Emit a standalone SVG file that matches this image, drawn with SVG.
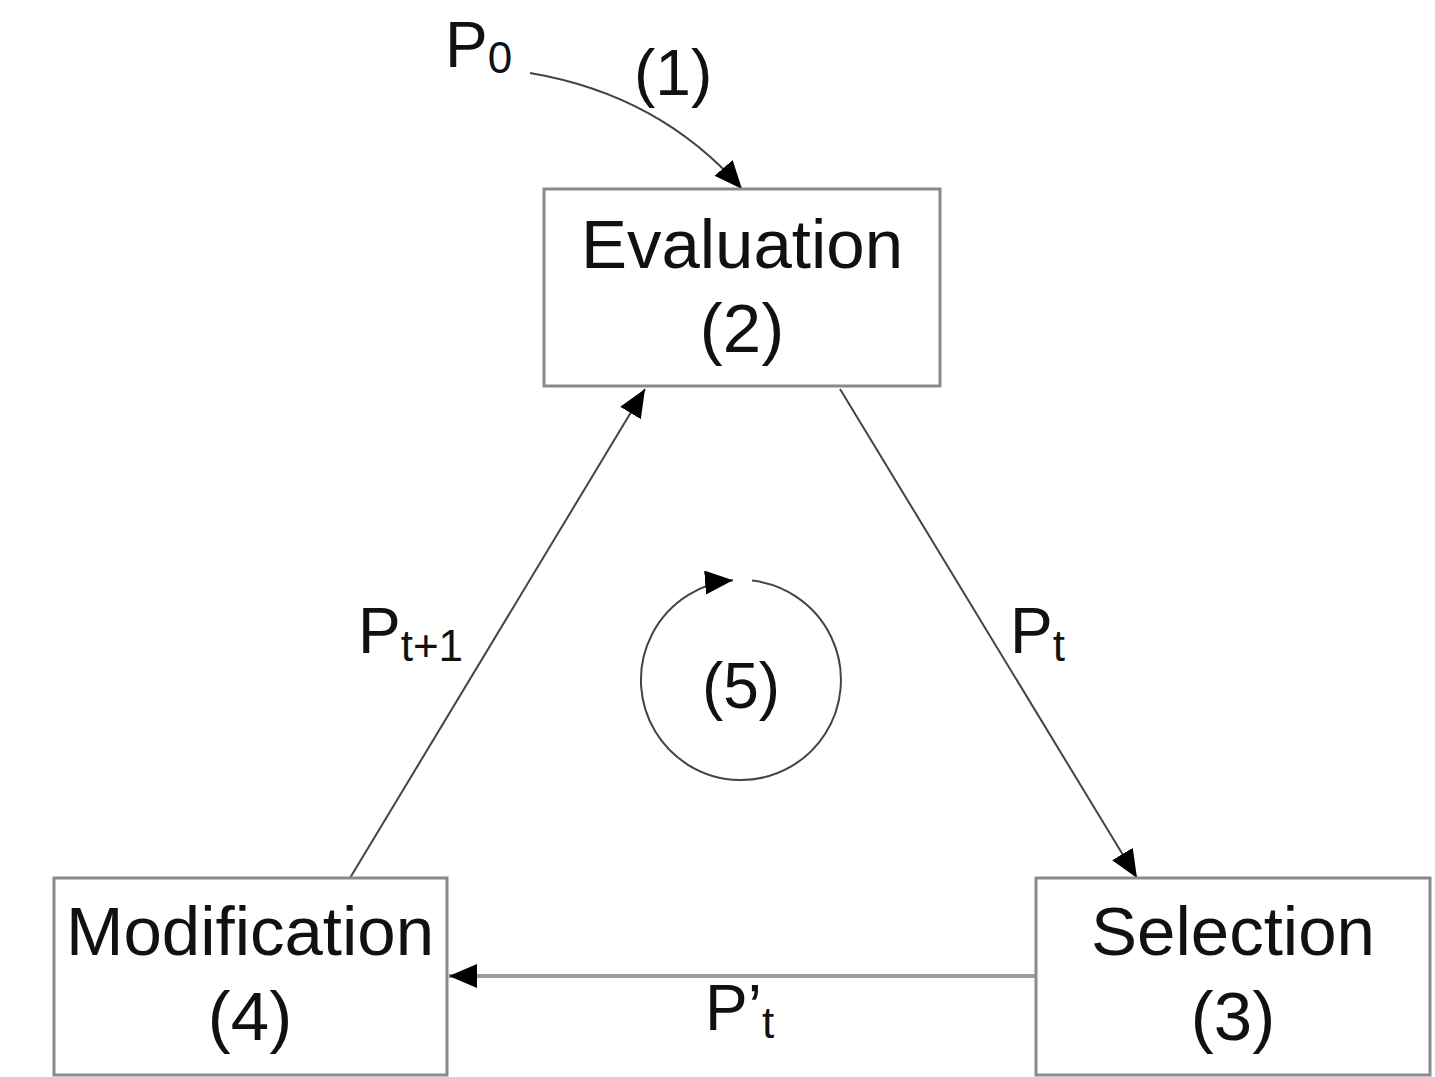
<svg xmlns="http://www.w3.org/2000/svg" width="1435" height="1077" viewBox="0 0 1435 1077">
<style>
.box{fill:#fff;stroke:#8a8a8a;stroke-width:3}
.t{font-family:"Liberation Sans",Arial,sans-serif;font-size:69px;fill:#111;text-anchor:middle}
.l{font-family:"Liberation Sans",Arial,sans-serif;font-size:64px;fill:#111}
.s{font-size:44px}
.c{fill:none;stroke:#444;stroke-width:2}
</style>
<defs>
<marker id="ah" markerUnits="userSpaceOnUse" markerWidth="32" markerHeight="26" refX="28" refY="12" orient="auto">
<path d="M0,0 L28,12 L0,24 Z" fill="#000"/>
</marker>
</defs>
<rect width="1435" height="1077" fill="#fff"/>
<g id="connectors">
<path class="c" d="M530,73 Q660,95 742,189" marker-end="url(#ah)"/>
<path class="c" d="M840,389 L1137,878" marker-end="url(#ah)"/>
<path class="c" style="stroke:#9a9a9a;stroke-width:4" d="M1036,976 L449,976" marker-end="url(#ah)"/>
<path class="c" d="M350,878 L645,389" marker-end="url(#ah)"/>
<path class="c" d="M752,580.6 A100,100 0 1 1 733,580.3" marker-end="url(#ah)"/>
</g>
<g id="evaluation">
<rect class="box" x="544" y="189" width="396" height="197"/>
<text class="t" x="742" y="268">Evaluation</text>
<text class="t" x="742" y="352">(2)</text>
</g>
<g id="selection">
<rect class="box" x="1036" y="878" width="394" height="197"/>
<text class="t" x="1233" y="955">Selection</text>
<text class="t" x="1233" y="1040">(3)</text>
</g>
<g id="modification">
<rect class="box" x="54" y="878" width="393" height="197"/>
<text class="t" x="250" y="955">Modification</text>
<text class="t" x="250" y="1040">(4)</text>
</g>
<g id="labels">
<text class="l" x="445" y="67">P<tspan class="s" dy="6">0</tspan></text>
<text class="l" x="634" y="95">(1)</text>
<text class="l" x="1010" y="653">P<tspan class="s" dy="8">t</tspan></text>
<text class="l" x="358" y="653">P<tspan class="s" dy="8">t+1</tspan></text>
<text class="l" x="705" y="1030">P’<tspan class="s" dy="8">t</tspan></text>
<text class="l" x="741" y="708" text-anchor="middle">(5)</text>
</g>
</svg>
